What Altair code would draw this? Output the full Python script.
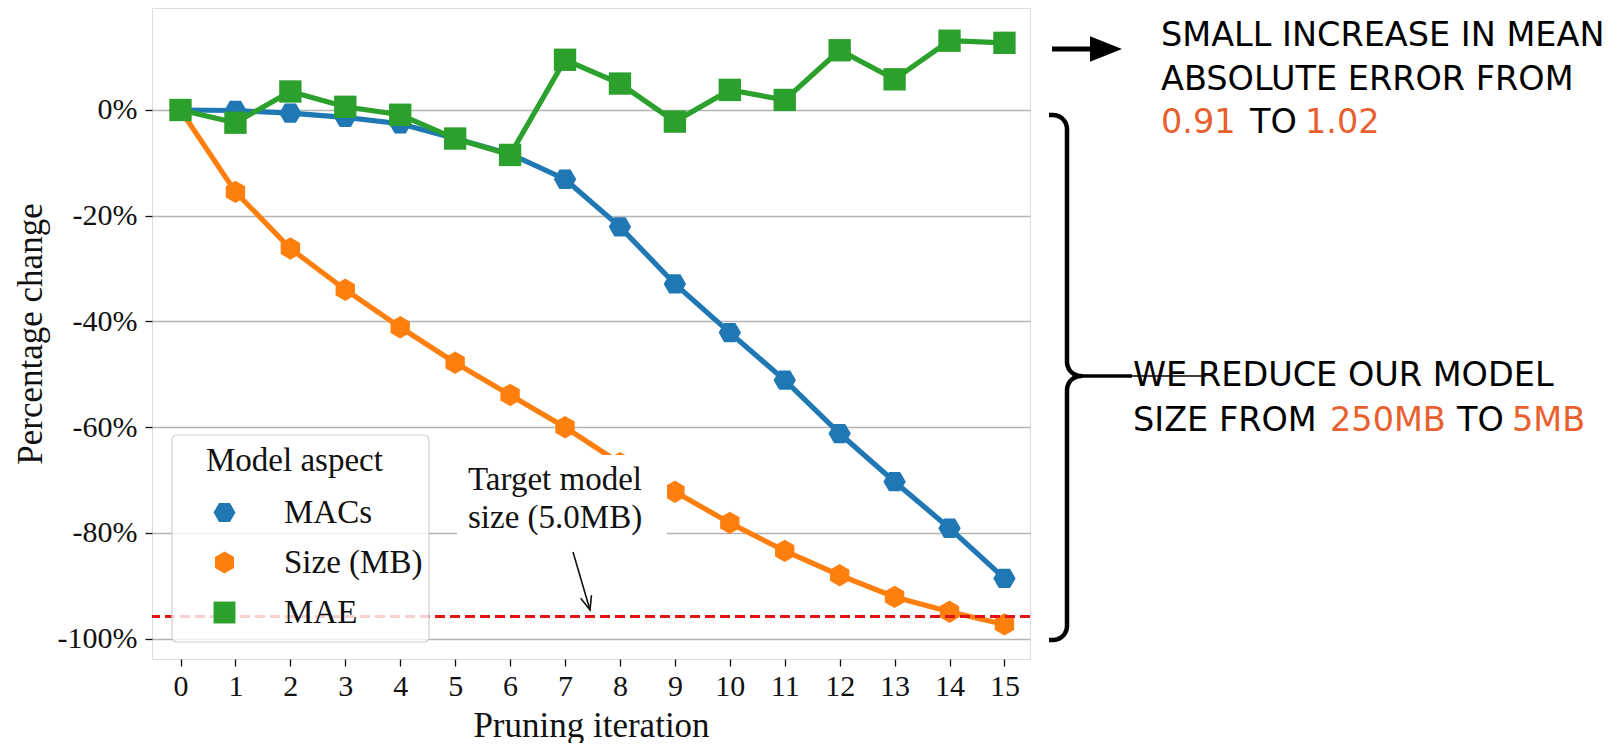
import altair as alt
import pandas as pd
import numpy as np

# ---------------- data ----------------
iterations = list(range(16))
macs = [0, -0.1, -0.6, -1.4, -2.6, -5.4, -8.3, -13.1, -22.1, -32.9, -42.1, -51.1, -61.2, -70.3, -79.1, -88.6]
size_mb = [0, -15.5, -26.2, -34.0, -41.1, -47.8, -53.9, -60.0, -66.8, -72.2, -78.1, -83.4, -88.0, -92.1, -94.9, -97.3]
mae = [0, -2.4, 3.5, 0.6, -0.9, -5.4, -8.5, 9.5, 5.0, -2.2, 3.8, 1.9, 11.3, 5.8, 13.1, 12.7]
series_names = ["MACs", "Size (MB)", "MAE"]
series_colors = ["#1f77b4", "#ff7f0e", "#2ca02c"]
target_pct = -95.8
y_tick_values = [0, -20, -40, -60, -80, -100]
x_tick_values = iterations

# ---------------- geometry ----------------
PL, PT, W, H = 152, 8, 878, 651          # page position/size of plot area
X0, X1 = -0.519, 15.465
Y0, Y1 = -103.84, 19.29


def px2x(px):
    return X0 + (px - PL) / W * (X1 - X0)


def py2y(py):
    return Y1 - (py - PT) / H * (Y1 - Y0)


SERIF = "Liberation Serif"
SANS = "DejaVu Sans"
ACCENT = "#E9602F"

HEX_FLAT = "M-1,0L-0.5,-0.866L0.5,-0.866L1,0L0.5,0.866L-0.5,0.866Z"
HEX_POINTY = "M0,-1L0.866,-0.5L0.866,0.5L0,1L-0.866,0.5L-0.866,-0.5Z"

df = pd.DataFrame({
    "iteration": iterations * 3,
    "pct": macs + size_mb + mae,
    "aspect": [n for n in series_names for _ in iterations],
})

x_scale = alt.Scale(domain=[X0, X1], nice=False, zero=False)
y_scale = alt.Scale(domain=[Y0, Y1], nice=False, zero=False)
color_scale = alt.Scale(domain=series_names, range=series_colors)
shape_scale = alt.Scale(domain=series_names, range=[HEX_FLAT, HEX_POINTY, "square"])

x_axis = alt.Axis(values=x_tick_values, grid=False, title="Pruning iteration",
                  labelFont=SERIF, labelFontSize=30, labelColor="#111",
                  titleFont=SERIF, titleFontSize=35, titleFontWeight="normal",
                  titleColor="#111", titleBaseline="alphabetic", titleY=77,
                  tickColor="#111", tickWidth=1.3, tickSize=7, labelPadding=5,
                  domain=False, labelFlush=False)
y_axis = alt.Axis(values=y_tick_values, grid=True, gridColor="#b4b4b4", gridWidth=1.3,
                  title="Percentage change", labelExpr="datum.value + '%'",
                  labelFont=SERIF, labelFontSize=30, labelColor="#111",
                  titleFont=SERIF, titleFontSize=35, titleFontWeight="normal",
                  titleColor="#111", titleBaseline="alphabetic", titleX=-111,
                  tickColor="#111", tickWidth=1.3, tickSize=7, labelPadding=8,
                  domain=False, labelFlush=False)

legend = alt.Legend(title="Model aspect", orient="none", legendX=54, legendY=437,
                    titleFont=SERIF, titleFontSize=33, titleFontWeight="normal",
                    titleColor="#111", labelFont=SERIF, labelFontSize=33,
                    labelColor="#111", symbolSize=480, symbolOffset=2,
                    labelOffset=43, rowPadding=16, titlePadding=18, padding=0,
                    symbolStrokeWidth=0, titleLimit=0, labelLimit=0)


def series_layers(i, name):
    base = alt.Chart(df).transform_filter(alt.datum.aspect == name)
    enc_x = alt.X("iteration:Q", scale=x_scale, axis=x_axis)
    enc_y = alt.Y("pct:Q", scale=y_scale, axis=y_axis)
    line = base.mark_line(strokeWidth=5.2, color=series_colors[i]).encode(
        x=enc_x, y=enc_y)
    pts = base.mark_point(filled=True, opacity=1, size=500).encode(
        x=enc_x, y=enc_y,
        color=alt.Color("aspect:N", scale=color_scale, legend=legend),
        shape=alt.Shape("aspect:N", scale=shape_scale, legend=legend))
    return [line, pts]


layers = []
for i, n in enumerate(series_names):
    layers += series_layers(i, n)

# target line
target = alt.Chart(pd.DataFrame({"pct": [target_pct]})).mark_rule(
    color="#e01414", strokeWidth=2.8, strokeDash=[10, 5]).encode(y="pct:Q")
layers.append(target)


def rect_layer(x1, x2, y1, y2, **kw):
    d = pd.DataFrame({"iteration": [px2x(x1)], "iteration2": [px2x(x2)],
                      "pct": [py2y(y1)], "pct2": [py2y(y2)]})
    return alt.Chart(d).mark_rect(**kw).encode(
        x="iteration:Q", x2="iteration2:Q", y="pct:Q", y2="pct2:Q")


# legend box (semi transparent)
layers.append(rect_layer(172, 429, 435, 642, fill="white", fillOpacity=0.8,
                         stroke="#cfcfcf", strokeWidth=1.2, cornerRadius=5))
# text box for the target annotation
layers.append(rect_layer(457, 667, 455, 546, fill="white", fillOpacity=1))


def text_layer(rows, font, size, color):
    d = pd.DataFrame({"iteration": [px2x(r[1]) for r in rows],
                      "pct": [py2y(r[2]) for r in rows],
                      "label": [r[0] for r in rows]})
    return alt.Chart(d).mark_text(font=font, fontSize=size, color=color,
                                  align="left", baseline="alphabetic").encode(
        x="iteration:Q", y="pct:Q", text="label:N")


layers.append(text_layer([("Target model", 468, 490), ("size (5.0MB)", 468, 528)],
                         SERIF, 33, "#111"))


def rule_layer(x1, y1, x2, y2, **kw):
    d = pd.DataFrame({"iteration": [px2x(x1)], "iteration2": [px2x(x2)],
                      "pct": [py2y(y1)], "pct2": [py2y(y2)]})
    return alt.Chart(d).mark_rule(**kw).encode(
        x="iteration:Q", x2="iteration2:Q", y="pct:Q", y2="pct2:Q")


def path_layer(points, **kw):
    d = pd.DataFrame({"iteration": [px2x(p[0]) for p in points],
                      "pct": [py2y(p[1]) for p in points],
                      "ord": list(range(len(points)))})
    return alt.Chart(d).mark_line(**kw).encode(
        x="iteration:Q", y="pct:Q", order="ord:Q")


# arrow to the target line
ax0, ay0, ax1, ay1 = 573, 552, 590, 610
layers.append(rule_layer(ax0, ay0, ax1, ay1, color="#111", strokeWidth=1.6))
d = np.array([ax1 - ax0, ay1 - ay0], dtype=float)
d /= np.linalg.norm(d)
wings = []
for ang in (22, -22):
    a = np.radians(ang)
    rot = np.array([d[0] * np.cos(a) - d[1] * np.sin(a), d[0] * np.sin(a) + d[1] * np.cos(a)])
    wings.append((ax1 - 15 * rot[0], ay1 - 15 * rot[1]))
layers.append(path_layer([wings[0], (ax1, ay1), wings[1]], color="#111",
                         strokeWidth=1.6, strokeJoin="miter"))

# right-hand arrow
layers.append(rule_layer(1052, 49, 1093, 49, color="black", strokeWidth=5))
tri = pd.DataFrame({"iteration": [px2x(1106)], "pct": [py2y(49)]})
layers.append(alt.Chart(tri).mark_point(shape="M1,0L-1,-0.8L-1,0.8Z", size=1024,
                                        filled=True, color="black", opacity=1).encode(
    x="iteration:Q", y="pct:Q"))


# curly bracket
def arc(cx, cy, r, a0, a1, n=10):
    t = np.radians(np.linspace(a0, a1, n))
    return [(cx + r * np.cos(v), cy + r * np.sin(v)) for v in t]


R = 14
brace = [(1049, 115)]
brace += arc(1053, 115 + R, R, 270, 360)
brace += arc(1067 + R, 362, R, 180, 90)
brace += arc(1067 + R, 390, R, 270, 180)
brace += arc(1053, 626, R, 0, 90)
brace += [(1049, 640)]
layers.append(path_layer(brace, color="black", strokeWidth=4.5, strokeJoin="round"))
layers.append(rule_layer(1078, 376, 1132, 376, color="black", strokeWidth=3.5))
layers.append(rule_layer(1130, 376, 1206, 376, color="black", strokeWidth=1.3))

# right-hand texts
FS = 33.5
layers.append(text_layer([
    ("SMALL INCREASE IN MEAN", 1161, 46),
    ("ABSOLUTE ERROR FROM", 1161, 90),
    ("TO", 1250, 133),
    ("WE REDUCE OUR MODEL", 1133, 386),
    ("SIZE FROM", 1133, 431),
    ("TO", 1457, 431),
], SANS, FS, "black"))
layers.append(text_layer([
    ("0.91", 1161, 133),
    ("1.02", 1305, 133),
    ("250MB", 1330, 431),
    ("5MB", 1512, 431),
], SANS, FS, ACCENT))

chart = alt.layer(*layers).properties(
    width=W, height=H,
    padding={"left": PL - 8, "top": PT - 8, "right": 580, "bottom": 84},
    autosize=alt.AutoSizeParams(type="none"),
).configure_view(stroke="#222", strokeWidth=1.5).configure(background="white")

chart.save("out.html", embed_options={"renderer": "svg", "actions": False})
